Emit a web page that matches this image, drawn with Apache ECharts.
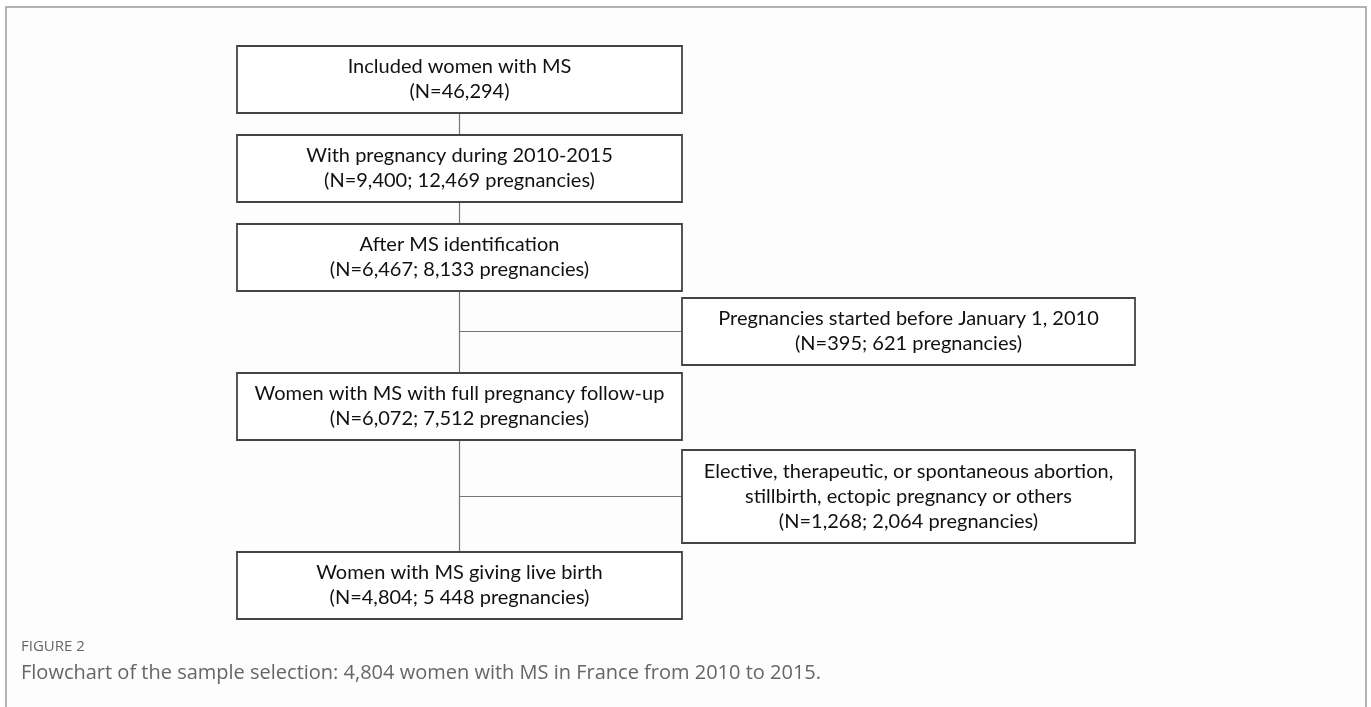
<!DOCTYPE html>
<html lang="en" style="height: 100%">
<head>
    <meta charset="UTF-8">
    <script src="https://cdn.jsdelivr.net/npm/echarts@6/dist/echarts.min.js"></script>
    <title>Flowchart of the sample selection</title>
</head>
<body style="height: 100%; margin: 0; background: #fff">
<div id="main" style="width: 1371px; height: 707px"></div>
<script>
    // box texts, top to bottom
    var mainSteps = [
        'Included women with MS\n(N=46,294)',
        'With pregnancy during 2010-2015\n(N=9,400; 12,469 pregnancies)',
        'After MS identification\n(N=6,467; 8,133 pregnancies)',
        'Women with MS with full pregnancy follow-up\n(N=6,072; 7,512 pregnancies)',
        'Women with MS giving live birth\n(N=4,804; 5 448 pregnancies)'
    ];
    // excluded boxes, each one hangs off the stem below mainSteps[i]
    var exclusions = [
        'Pregnancies started before January 1, 2010\n(N=395; 621 pregnancies)',
        'Elective, therapeutic, or spontaneous abortion,\nstillbirth, ectopic pregnancy or others\n(N=1,268; 2,064 pregnancies)'
    ];
    var figureLabel = 'FIGURE 2';
    var captionText = 'Flowchart of the sample selection: 4,804 women with MS in France from 2010 to 2015.';

    // layout
    var mainLeft = 237, mainWidth = 445, boxH = 67;
    var mainTops = [46, 135, 224, 373, 552];
    var sideLeft = 682, sideWidth = 453;
    var sideTops = [298, 450], sideHeights = [67, 93];
    var stemX = mainLeft + mainWidth / 2;
    var boxFont = '20px Lato, "Liberation Sans", sans-serif';

    var myChart = echarts.init(document.getElementById('main'));
    var elements = [];

    // outer frame of the figure
    elements.push({
        type: 'rect',
        shape: {x: 6, y: 7, width: 1360, height: 760},
        style: {fill: '#fdfdfd', stroke: '#999', lineWidth: 1.5},
        z: 0
    });

    function box(x, y, w, h, text) {
        elements.push({
            type: 'rect',
            shape: {x: x, y: y, width: w, height: h},
            style: {fill: '#fff', stroke: '#444', lineWidth: 1.8},
            z: 2
        });
        elements.push({
            type: 'text',
            x: x + w / 2,
            y: y + h / 2,
            style: {
                text: text,
                font: boxFont,
                fill: '#111',
                align: 'center',
                verticalAlign: 'middle',
                lineHeight: 25
            },
            z: 3
        });
    }

    function line(x1, y1, x2, y2) {
        elements.push({
            type: 'line',
            shape: {x1: x1, y1: y1, x2: x2, y2: y2},
            style: {stroke: '#777', lineWidth: 1.2},
            z: 1
        });
    }

    mainSteps.forEach(function (t, i) {
        box(mainLeft, mainTops[i], mainWidth, boxH, t);
        if (i < mainSteps.length - 1) {
            line(stemX, mainTops[i] + boxH, stemX, mainTops[i + 1]);
        }
    });

    exclusions.forEach(function (t, i) {
        box(sideLeft, sideTops[i], sideWidth, sideHeights[i], t);
        var cy = sideTops[i] + sideHeights[i] / 2;
        line(stemX, cy, sideLeft, cy);
    });

    elements.push({
        type: 'text', x: 21, y: 647,
        style: {text: figureLabel, font: '15px "Open Sans", sans-serif', fill: '#666', verticalAlign: 'middle'}
    });
    elements.push({
        type: 'text', x: 21, y: 673,
        style: {text: captionText, font: '20px "Open Sans", sans-serif', fill: '#666', verticalAlign: 'middle'}
    });

    var option = {
        animation: false,
        graphic: {elements: elements}
    };
    myChart.setOption(option);
</script>
</body>
</html>
